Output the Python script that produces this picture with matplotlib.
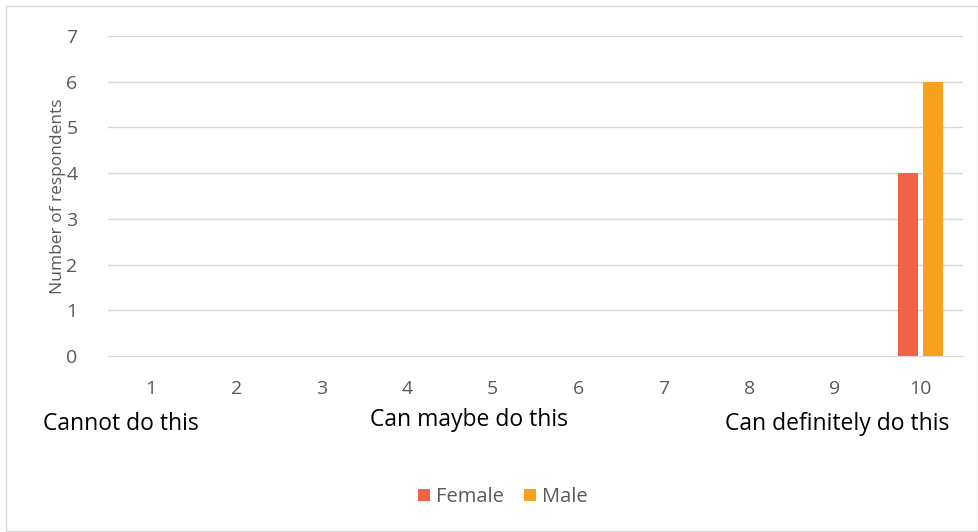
import matplotlib.pyplot as plt
import numpy as np
from matplotlib.patches import Rectangle

plt.rcParams['font.family'] = ['Open Sans', 'DejaVu Sans']

categories = ['1', '2', '3', '4', '5', '6', '7', '8', '9', '10']
female = [0, 0, 0, 0, 0, 0, 0, 0, 0, 4]
male = [0, 0, 0, 0, 0, 0, 0, 0, 0, 6]
yticks = [0, 1, 2, 3, 4, 5, 6, 7]

fig = plt.figure(figsize=(9.79, 5.32), dpi=100)
ax = fig.add_axes([108/979, 1-356/532, (963-108)/979, (356-36)/532])

x = np.arange(len(categories))
w = 0.234
gap = 0.058
ax.bar(x - (w+gap)/2, female, width=w, color='#F26346', label='Female', zorder=3)
ax.bar(x + (w+gap)/2, male, width=w, color='#F7A11F', label='Male', zorder=3)

ax.set_xlim(-0.5, len(categories)-0.5)
ax.set_ylim(0, 7)
ax.set_yticks(yticks)
ax.set_xticks(x)
ax.set_xticklabels(categories)
ax.grid(axis='y', color='#D9D9D9', linewidth=1, zorder=0)
for s in ['top', 'right', 'left']:
    ax.spines[s].set_visible(False)
ax.spines['bottom'].set_color('#D9D9D9')
ax.tick_params(length=0, colors='#595959', labelsize=14)
ax.tick_params(axis='x', pad=17)
ax.tick_params(axis='y', pad=22)
ax.set_ylabel('Number of respondents', fontsize=12.5, color='#595959', labelpad=0)

# scale anchors under the x axis
fig.text(43/979, 1-424/532, 'Cannot do this', fontsize=16.5, va='center', ha='left', color='black')
fig.text(469/979, 1-420/532, 'Can maybe do this', fontsize=16.5, va='center', ha='center', color='black')
fig.text(837/979, 1-424/532, 'Can definitely do this', fontsize=16.5, va='center', ha='center', color='black')

fig.legend(loc='center', bbox_to_anchor=(503/979, 1-497/532), ncol=2, frameon=False,
           fontsize=14.5, labelcolor='#595959', handlelength=0.6, handleheight=0.6,
           handletextpad=0.3, columnspacing=1.0)

fig.patches.append(Rectangle((6/979, 1/532), 972/979, 525/532, transform=fig.transFigure,
                             fill=False, edgecolor='#D9D9D9', linewidth=1))

fig.savefig('out.png', dpi=100)
